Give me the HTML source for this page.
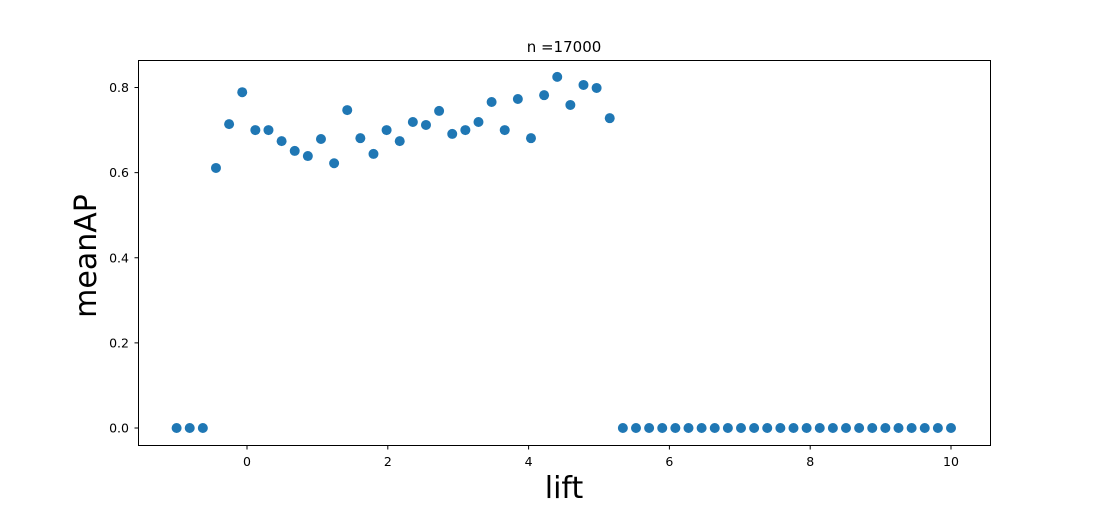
<!DOCTYPE html>
<html><head><meta charset="utf-8"><style>
html,body{margin:0;padding:0;background:#fff;}
svg text{font-family:"DejaVu Sans","Liberation Sans",sans-serif;fill:#000;}
</style></head><body>
<svg id="chart" width="1100" height="500" xmlns="http://www.w3.org/2000/svg">
<rect x="0" y="0" width="1100" height="500" fill="#fff"/>
<text x="564" y="52" font-size="15" text-anchor="middle">n =17000</text>
<text x="564" y="498" font-size="30" text-anchor="middle">lift</text>
<text transform="translate(96,256) rotate(-90)" font-size="30" text-anchor="middle">meanAP</text>
<g id="ticks"></g>
<g id="points"></g>
<rect x="138.5" y="60.5" width="852" height="385" fill="none" stroke="#000" stroke-width="1"/>
</svg>
<script>
const nonZeroValues = [0.611,0.714,0.789,0.700,0.700,0.674,0.651,0.639,0.679,0.622,0.747,0.681,0.644,0.700,0.674,0.719,0.712,0.745,0.691,0.700,0.719,0.766,0.700,0.773,0.681,0.782,0.825,0.759,0.806,0.799,0.728];
const leadingZeros = [0,0,0];
const trailingZeros = [0,0,0,0,0,0,0,0,0,0,0,0,0,0,0,0,0,0,0,0,0,0,0,0,0,0];
const meanAP = leadingZeros.concat(nonZeroValues, trailingZeros);
const xStart = -1, xEnd = 10;
const xTicks = [0,2,4,6,8,10];
const yTicks = [0.0,0.2,0.4,0.6,0.8];

const NS = "http://www.w3.org/2000/svg";
function xs(v){ return 247 + v * 70.4; }
function ys(v){ return 428 - v * 425.6; }

const tg = document.getElementById('ticks');
xTicks.forEach(t => {
  const l = document.createElementNS(NS,'line');
  l.setAttribute('x1',xs(t)); l.setAttribute('x2',xs(t));
  l.setAttribute('y1',445.5); l.setAttribute('y2',449.5);
  l.setAttribute('stroke','#000');
  
  
  tg.appendChild(l);
  const tx = document.createElementNS(NS,'text');
  tx.setAttribute('x',xs(t)); tx.setAttribute('y',466);
  tx.setAttribute('font-size','12.5'); tx.setAttribute('text-anchor','middle');
  tx.textContent = String(t);
  
  
  tg.appendChild(tx);
});
yTicks.forEach(t => {
  const l = document.createElementNS(NS,'line');
  l.setAttribute('x1',134.5); l.setAttribute('x2',138.5);
  l.setAttribute('y1',ys(t)); l.setAttribute('y2',ys(t));
  l.setAttribute('stroke','#000');
  
  
  tg.appendChild(l);
  const tx = document.createElementNS(NS,'text');
  tx.setAttribute('x',129); tx.setAttribute('y',ys(t)+4.5);
  tx.setAttribute('font-size','12.5'); tx.setAttribute('text-anchor','end');
  tx.textContent = t.toFixed(1);
  
  
  tg.appendChild(tx);
});

const pg = document.getElementById('points');
const n = meanAP.length;
meanAP.forEach((v,i) => {
  const xv = xStart + (xEnd - xStart) * i / (n - 1);
  const c = document.createElementNS(NS,'circle');
  c.setAttribute('cx',xs(xv)); c.setAttribute('cy',ys(v));
  c.setAttribute('r',5); c.setAttribute('fill','#1f77b4');
  
  
  pg.appendChild(c);
});
</script>
</body></html>
